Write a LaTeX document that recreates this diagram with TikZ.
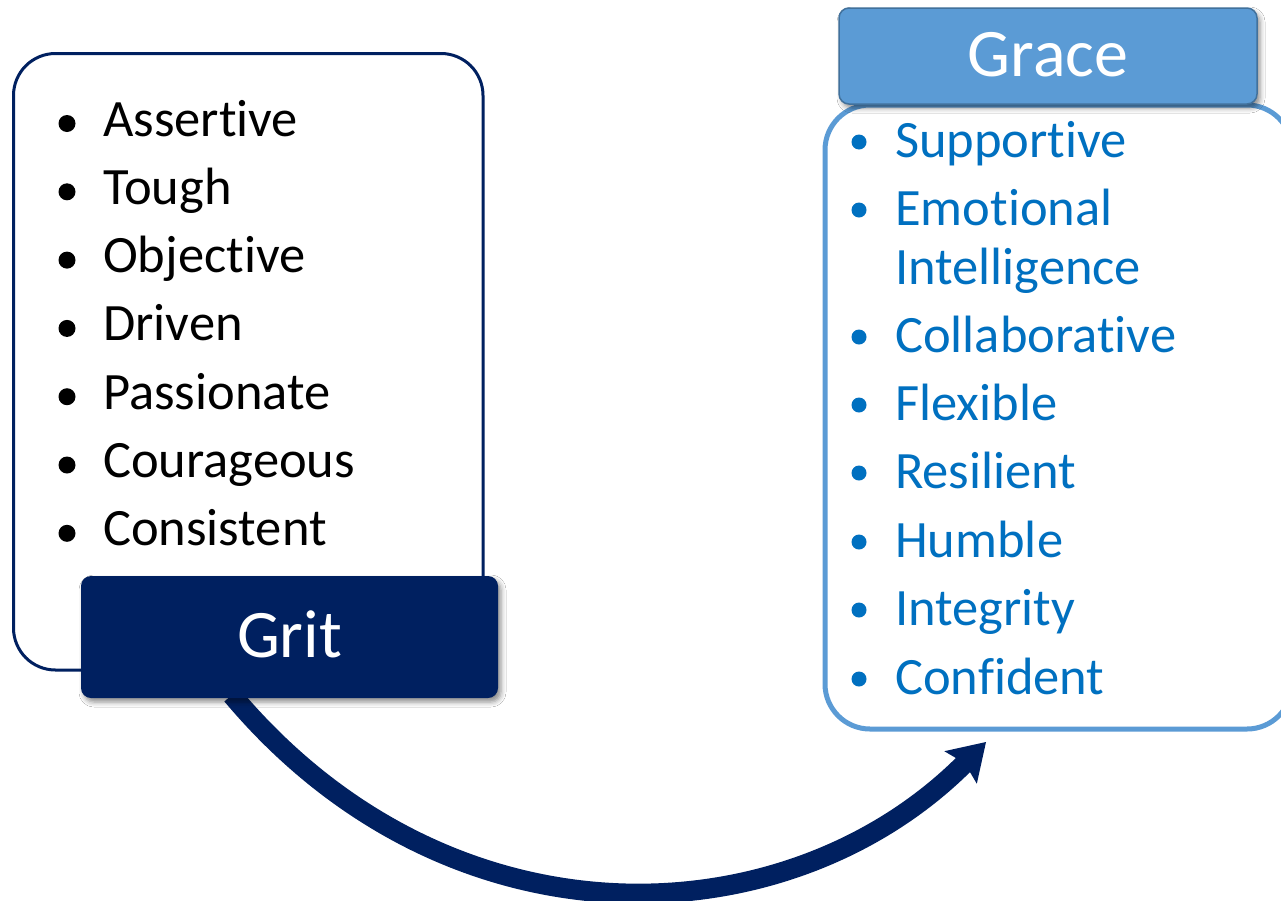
\documentclass[tikz,border=0pt]{standalone}
\usepackage{fontspec}
\setmainfont{Carlito}[RawFeature={-liga;-clig;-calt;-dlig}]
\usetikzlibrary{arrows.meta,shadows.blur}
\definecolor{navy}{HTML}{002060}
\definecolor{gracefill}{HTML}{5B9BD5}
\definecolor{graceedge}{HTML}{41719C}
\definecolor{gracetext}{HTML}{0070C0}
\tikzset{
  gritlistbox/.style={draw=navy, line width=3pt, rounded corners=42pt, fill=white,
    minimum width=469.5pt, minimum height=616.5pt, inner sep=0pt},
  gracelistbox/.style={draw=gracefill, line width=5pt, rounded corners=45pt, fill=white,
    minimum width=467pt, minimum height=624pt, inner sep=0pt},
  headbox/.style={rounded corners=10pt, inner sep=0pt, text height=41pt, text depth=0pt,
    font=\fontsize{68}{80}\selectfont, text=white,
    blur shadow={shadow xshift=3pt, shadow yshift=-4pt, shadow blur radius=5pt, shadow opacity=45}},
  gritbox/.style={headbox, fill=navy, minimum width=417pt, minimum height=122pt},
  gracebox/.style={headbox, fill=gracefill, draw=graceedge, line width=1.5pt,
    minimum width=418pt, minimum height=96pt},
  itemtext/.style={anchor=base west, inner sep=0pt, font=\fontsize{52.5}{62}\selectfont},
  gritbullet/.style={circle, fill=black, inner sep=0pt, minimum size=17pt},
  gracebullet/.style={circle, fill=gracetext, inner sep=0pt, minimum size=15pt},
  flow/.style={draw=navy, line width=20pt,
    -{Stealth[length=36pt, width=46pt, inset=6pt, line width=0pt]}}
}
\begin{document}
\begin{tikzpicture}[x=1pt,y=-1pt]
\useasboundingbox[fill=white] (0,0) rectangle (1281,900);

% left list box
\node[gritlistbox] (gritlist) at (248.25,361.75) {};
\foreach \t [count=\i] in {Assertive,Tough,Objective,Driven,Passionate,Courageous,Consistent}{
  \pgfmathsetmacro{\yb}{136+68.3*(\i-1)}
  \node[gritbullet] (gb\i) at (67,\yb-12.5) {};
  \node[itemtext, text=black] (gt\i) at (103,\yb) {\t};
}

% right list box
\node[gracelistbox] (gracelist) at (1058.5,417) {};
\node[gracebullet] (rb1) at (859,142) {};
\node[itemtext, text=gracetext] (rt1) at (895,157) {Supportive};
\node[gracebullet] (rb2) at (859,210) {};
\node[itemtext, text=gracetext] (rt2) at (895,225) {Emotional};
\node[itemtext, text=gracetext] (rt2b) at (895,284) {Intelligence};
\node[gracebullet] (rb3) at (859,337) {};
\node[itemtext, text=gracetext] (rt3) at (895,352) {Collaborative};
\node[gracebullet] (rb4) at (859,405) {};
\node[itemtext, text=gracetext] (rt4) at (895,420) {Flexible};
\node[gracebullet] (rb5) at (859,473) {};
\node[itemtext, text=gracetext] (rt5) at (895,488) {Resilient};
\node[gracebullet] (rb6) at (859,542) {};
\node[itemtext, text=gracetext] (rt6) at (895,557) {Humble};
\node[gracebullet] (rb7) at (859,610) {};
\node[itemtext, text=gracetext] (rt7) at (895,625) {Integrity};
\node[gracebullet] (rb8) at (859,679) {};
\node[itemtext, text=gracetext] (rt8) at (895,694) {Confident};

% curved arrow
\coordinate (arrS) at (232,695);
\coordinate (arrE) at (986,742);
\draw[flow] (arrS) .. controls (450.6,955.4) and (788,940) .. (arrE);

% headers
\node[gritbox] (grit) at (289.5,637) {Grit};
\node[gracebox] (grace) at (1048,56) {Grace};
\end{tikzpicture}
\end{document}
